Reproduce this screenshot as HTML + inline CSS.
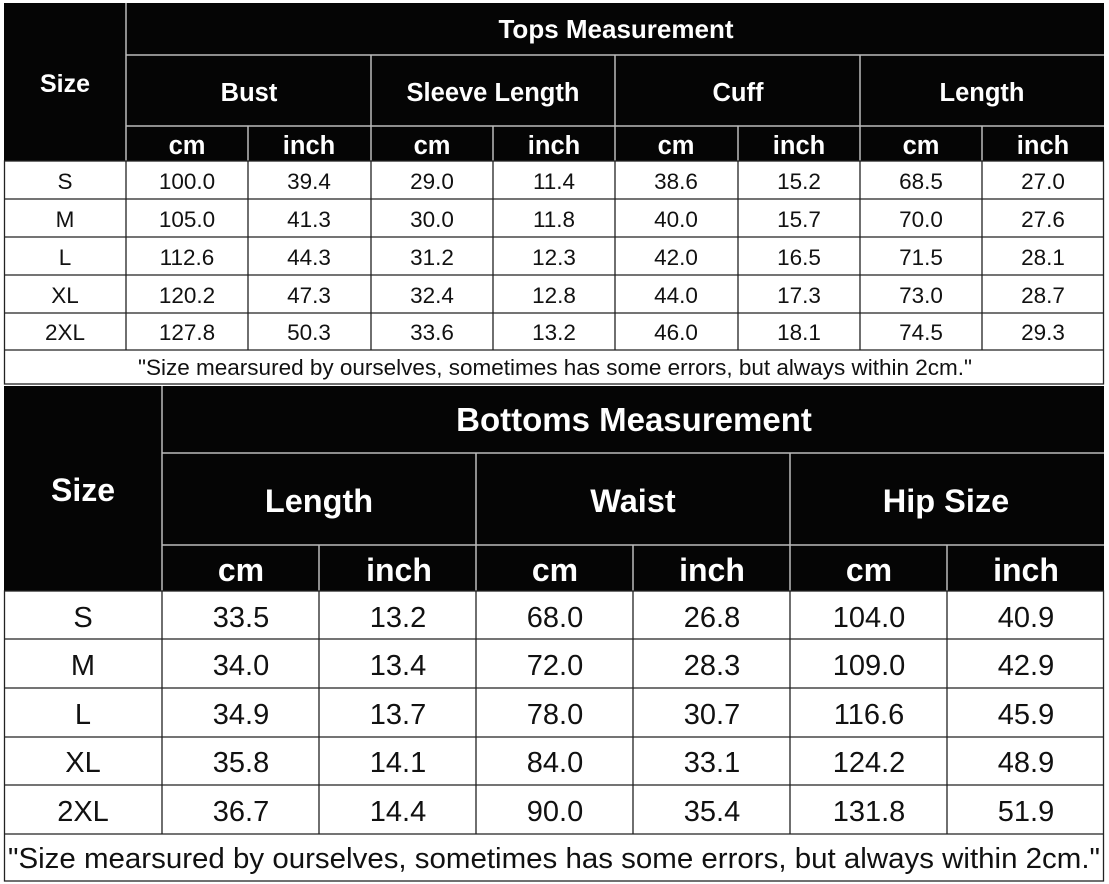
<!DOCTYPE html>
<html><head><meta charset="utf-8"><style>
html,body{margin:0;padding:0;background:#fff;width:1109px;height:884px;overflow:hidden}
svg{display:block}
text{font-family:"Liberation Sans",Arial,sans-serif;text-anchor:middle}
.h{fill:#fff;font-weight:bold}
.d{fill:#111}
</style></head><body>
<svg width="1109" height="884" viewBox="0 0 1109 884">
<!-- TOP TABLE -->
<rect x="4" y="3" width="1100" height="158" fill="#050505"/>
<g stroke="#bbb" stroke-width="1.5" fill="none">
<line x1="126" y1="3" x2="126" y2="161"/>
<line x1="126" y1="55" x2="1104" y2="55"/>
<line x1="126" y1="126" x2="1104" y2="126"/>
<line x1="371" y1="55" x2="371" y2="161"/>
<line x1="615" y1="55" x2="615" y2="161"/>
<line x1="860" y1="55" x2="860" y2="161"/>
<line x1="248" y1="126" x2="248" y2="161"/>
<line x1="493" y1="126" x2="493" y2="161"/>
<line x1="738" y1="126" x2="738" y2="161"/>
<line x1="982" y1="126" x2="982" y2="161"/>
</g>
<g stroke="#222" stroke-width="1.3" fill="none">
<rect x="4.5" y="161" width="1099" height="223"/>
<line x1="4" y1="199" x2="1104" y2="199"/>
<line x1="4" y1="237" x2="1104" y2="237"/>
<line x1="4" y1="275" x2="1104" y2="275"/>
<line x1="4" y1="313" x2="1104" y2="313"/>
<line x1="4" y1="350" x2="1104" y2="350"/>
<line x1="126" y1="161" x2="126" y2="350"/>
<line x1="248" y1="161" x2="248" y2="350"/>
<line x1="371" y1="161" x2="371" y2="350"/>
<line x1="493" y1="161" x2="493" y2="350"/>
<line x1="615" y1="161" x2="615" y2="350"/>
<line x1="738" y1="161" x2="738" y2="350"/>
<line x1="860" y1="161" x2="860" y2="350"/>
<line x1="982" y1="161" x2="982" y2="350"/>
</g>
<g class="h" font-size="25.5">
<text x="65" y="92" font-size="25">Size</text>
<text x="616" y="38" font-size="26">Tops Measurement</text>
<text x="249" y="101">Bust</text>
<text x="493" y="101">Sleeve Length</text>
<text x="738" y="101">Cuff</text>
<text x="982" y="101">Length</text>
</g>
<g class="h" font-size="25.5">
<text x="187" y="154">cm</text><text x="309" y="154">inch</text>
<text x="432" y="154">cm</text><text x="554" y="154">inch</text>
<text x="676" y="154">cm</text><text x="799" y="154">inch</text>
<text x="921" y="154">cm</text><text x="1043" y="154">inch</text>
</g>
<g class="d" font-size="22.5">
<text x="65" y="189">S</text><text x="187" y="189">100.0</text><text x="309" y="189">39.4</text><text x="432" y="189">29.0</text><text x="554" y="189">11.4</text><text x="676" y="189">38.6</text><text x="799" y="189">15.2</text><text x="921" y="189">68.5</text><text x="1043" y="189">27.0</text>
<text x="65" y="227">M</text><text x="187" y="227">105.0</text><text x="309" y="227">41.3</text><text x="432" y="227">30.0</text><text x="554" y="227">11.8</text><text x="676" y="227">40.0</text><text x="799" y="227">15.7</text><text x="921" y="227">70.0</text><text x="1043" y="227">27.6</text>
<text x="65" y="265">L</text><text x="187" y="265">112.6</text><text x="309" y="265">44.3</text><text x="432" y="265">31.2</text><text x="554" y="265">12.3</text><text x="676" y="265">42.0</text><text x="799" y="265">16.5</text><text x="921" y="265">71.5</text><text x="1043" y="265">28.1</text>
<text x="65" y="303">XL</text><text x="187" y="303">120.2</text><text x="309" y="303">47.3</text><text x="432" y="303">32.4</text><text x="554" y="303">12.8</text><text x="676" y="303">44.0</text><text x="799" y="303">17.3</text><text x="921" y="303">73.0</text><text x="1043" y="303">28.7</text>
<text x="65" y="340">2XL</text><text x="187" y="340">127.8</text><text x="309" y="340">50.3</text><text x="432" y="340">33.6</text><text x="554" y="340">13.2</text><text x="676" y="340">46.0</text><text x="799" y="340">18.1</text><text x="921" y="340">74.5</text><text x="1043" y="340">29.3</text>
<text x="555" y="375" font-size="22" textLength="834" lengthAdjust="spacingAndGlyphs">"Size mearsured by ourselves, sometimes has some errors, but always within 2cm."</text>
</g>

<!-- BOTTOM TABLE -->
<rect x="4" y="386" width="1100" height="205" fill="#050505"/>
<g stroke="#bbb" stroke-width="1.5" fill="none">
<line x1="162" y1="386" x2="162" y2="591"/>
<line x1="162" y1="453" x2="1104" y2="453"/>
<line x1="162" y1="545" x2="1104" y2="545"/>
<line x1="476" y1="453" x2="476" y2="591"/>
<line x1="790" y1="453" x2="790" y2="591"/>
<line x1="319" y1="545" x2="319" y2="591"/>
<line x1="633" y1="545" x2="633" y2="591"/>
<line x1="947" y1="545" x2="947" y2="591"/>
</g>
<g stroke="#222" stroke-width="1.3" fill="none">
<rect x="4.5" y="591" width="1099" height="290"/>
<line x1="4" y1="639" x2="1104" y2="639"/>
<line x1="4" y1="688" x2="1104" y2="688"/>
<line x1="4" y1="737" x2="1104" y2="737"/>
<line x1="4" y1="785" x2="1104" y2="785"/>
<line x1="4" y1="834" x2="1104" y2="834"/>
<line x1="162" y1="591" x2="162" y2="834"/>
<line x1="319" y1="591" x2="319" y2="834"/>
<line x1="476" y1="591" x2="476" y2="834"/>
<line x1="633" y1="591" x2="633" y2="834"/>
<line x1="790" y1="591" x2="790" y2="834"/>
<line x1="947" y1="591" x2="947" y2="834"/>
</g>
<g class="h" font-size="32.5">
<text x="83" y="501" font-size="32">Size</text>
<text x="634" y="431" font-size="33">Bottoms Measurement</text>
<text x="319" y="512">Length</text>
<text x="633" y="512">Waist</text>
<text x="946" y="512">Hip Size</text>
<text x="241" y="581" font-size="32">cm</text><text x="399" y="581" font-size="32">inch</text>
<text x="555" y="581" font-size="32">cm</text><text x="712" y="581" font-size="32">inch</text>
<text x="869" y="581" font-size="32">cm</text><text x="1026" y="581" font-size="32">inch</text>
</g>
<g class="d" font-size="29">
<text x="83" y="627">S</text><text x="241" y="627">33.5</text><text x="398" y="627">13.2</text><text x="555" y="627">68.0</text><text x="712" y="627">26.8</text><text x="869" y="627">104.0</text><text x="1026" y="627">40.9</text>
<text x="83" y="675">M</text><text x="241" y="675">34.0</text><text x="398" y="675">13.4</text><text x="555" y="675">72.0</text><text x="712" y="675">28.3</text><text x="869" y="675">109.0</text><text x="1026" y="675">42.9</text>
<text x="83" y="724">L</text><text x="241" y="724">34.9</text><text x="398" y="724">13.7</text><text x="555" y="724">78.0</text><text x="712" y="724">30.7</text><text x="869" y="724">116.6</text><text x="1026" y="724">45.9</text>
<text x="83" y="772">XL</text><text x="241" y="772">35.8</text><text x="398" y="772">14.1</text><text x="555" y="772">84.0</text><text x="712" y="772">33.1</text><text x="869" y="772">124.2</text><text x="1026" y="772">48.9</text>
<text x="83" y="821">2XL</text><text x="241" y="821">36.7</text><text x="398" y="821">14.4</text><text x="555" y="821">90.0</text><text x="712" y="821">35.4</text><text x="869" y="821">131.8</text><text x="1026" y="821">51.9</text>
<text x="554" y="868" font-size="29" textLength="1092" lengthAdjust="spacingAndGlyphs">"Size mearsured by ourselves, sometimes has some errors, but always within 2cm."</text>
</g>
</svg>
</body></html>
